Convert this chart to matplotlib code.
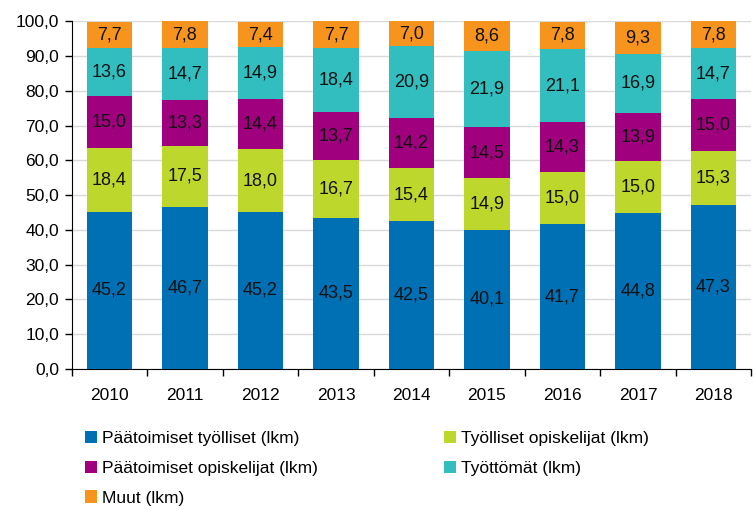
import matplotlib.pyplot as plt
import numpy as np

plt.rcParams['font.family'] = ['Liberation Sans', 'DejaVu Sans']

# Data
vuodet = ['2010', '2011', '2012', '2013', '2014', '2015', '2016', '2017', '2018']
tyolliset = [45.2, 46.7, 45.2, 43.5, 42.5, 40.1, 41.7, 44.8, 47.3]
tyol_opisk = [18.4, 17.5, 18.0, 16.7, 15.4, 14.9, 15.0, 15.0, 15.3]
opiskelijat = [15.0, 13.3, 14.4, 13.7, 14.2, 14.5, 14.3, 13.9, 15.0]
tyottomat = [13.6, 14.7, 14.9, 18.4, 20.9, 21.9, 21.1, 16.9, 14.7]
muut = [7.7, 7.8, 7.4, 7.7, 7.0, 8.6, 7.8, 9.3, 7.8]

sarjat = [
    ('Päätoimiset työlliset (lkm)', tyolliset, '#0070b4'),
    ('Työlliset opiskelijat (lkm)', tyol_opisk, '#bed72d'),
    ('Päätoimiset opiskelijat (lkm)', opiskelijat, '#a0007d'),
    ('Työttömät (lkm)', tyottomat, '#32bebe'),
    ('Muut (lkm)', muut, '#f7941d'),
]

fig = plt.figure(figsize=(7.55, 5.09), dpi=100)
ax = fig.add_axes([0.095, 0.275, 0.9, 0.683])

x = np.arange(len(vuodet))
pohja = np.zeros(len(vuodet))
palkit = []
for nimi, arvot, vari in sarjat:
    b = ax.bar(x, arvot, 0.6, bottom=pohja, color=vari, label=nimi, zorder=3)
    palkit.append(b)
    for xi, p, v in zip(x, pohja, arvot):
        ax.text(xi, p + v / 2, f'{v:.1f}'.replace('.', ','), ha='center', va='center',
                fontsize=13, color='#111111', zorder=4)
    pohja += np.array(arvot)

ax.set_xlim(-0.5, len(vuodet) - 0.5)
ax.set_ylim(0, 100)
ax.set_yticks(np.arange(0, 101, 10))
ax.set_yticklabels([f'{v:.1f}'.replace('.', ',') for v in np.arange(0, 101, 10)], fontsize=12.5)
ax.set_xticks(x)
ax.set_xticklabels(vuodet, fontsize=12.5)
ax.set_xticks(np.arange(-0.5, len(vuodet)), minor=True)
ax.tick_params(axis='x', which='major', length=0, pad=14)
ax.tick_params(axis='x', which='minor', length=5, direction='out', width=1)
ax.tick_params(axis='y', length=5, direction='out', width=1, pad=4)
ax.yaxis.grid(True, color='#d9d9d9', linewidth=1, zorder=0)
for s in ['top', 'right']:
    ax.spines[s].set_visible(False)
for s in ['left', 'bottom']:
    ax.spines[s].set_color('black')

# legend in two columns below
yhteiset = dict(loc='upper left', frameon=False, fontsize=12.5, handlelength=0.7,
                handleheight=0.7, handletextpad=0.3, labelspacing=0.85, borderaxespad=0,
                borderpad=0)
fig.legend([palkit[0], palkit[2], palkit[4]], [sarjat[0][0], sarjat[2][0], sarjat[4][0]],
           bbox_to_anchor=(0.112, 0.154), **yhteiset)
fig.legend([palkit[1], palkit[3]], [sarjat[1][0], sarjat[3][0]],
           bbox_to_anchor=(0.588, 0.154), **yhteiset)

fig.savefig('out.png', dpi=100)
